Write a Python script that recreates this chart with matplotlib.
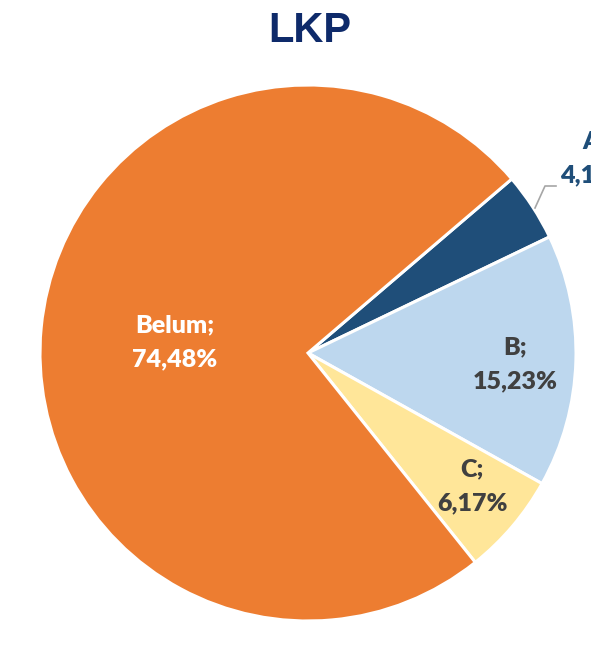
import matplotlib.pyplot as plt

# data (order: clockwise from the top-right)
categories = ["A", "B", "C", "Belum"]
shares = [4.12, 15.23, 6.17, 74.48]
colors = ["#1F4E79", "#BDD7EE", "#FFE699", "#ED7D31"]
text_colors = ["#1F4E79", "#404040", "#404040", "#FFFFFF"]
title = "LKP"

W, H, DPI = 591, 651, 100
CX, CY, R = 308, 353, 268

fig = plt.figure(figsize=(W / DPI, H / DPI), dpi=DPI)
ax = fig.add_axes([(CX - R) / W, (H - CY - R) / H, 2 * R / W, 2 * R / H])

ax.pie(
    shares,
    colors=colors,
    startangle=40.5,
    counterclock=False,
    wedgeprops=dict(edgecolor="white", linewidth=2.2),
)
ax.set_xlim(-1, 1)
ax.set_ylim(-1, 1)
ax.set_aspect("equal")
ax.axis("off")


def px(x, y):
    return (x - CX) / R, (CY - y) / R


# label centres in pixel space of the reference
label_pos = [(595, 158), (515, 364), (472, 486), (175, 342)]
for cat, val, col, (lx, ly) in zip(categories, shares, text_colors, label_pos):
    txt = f"{cat};\n{val:.2f}%".replace(".", ",")
    x, y = px(lx, ly)
    ax.text(x, y, txt, ha="center", va="center", color=col,
            fontsize=18, fontweight="heavy", family="Lato",
            linespacing=1.65, clip_on=False)

# leader line for the small A slice
pts = [px(535, 208), px(545, 186), px(556, 186)]
ax.plot([p[0] for p in pts], [p[1] for p in pts], color="#A6A6A6",
        lw=1.2, clip_on=False)

fig.text(310 / W, 1 - 31 / H, title, ha="center", va="center",
         fontsize=30, fontweight="bold", color="#0E2A6A",
         family="Liberation Sans")

fig.savefig("out.png", dpi=DPI)
